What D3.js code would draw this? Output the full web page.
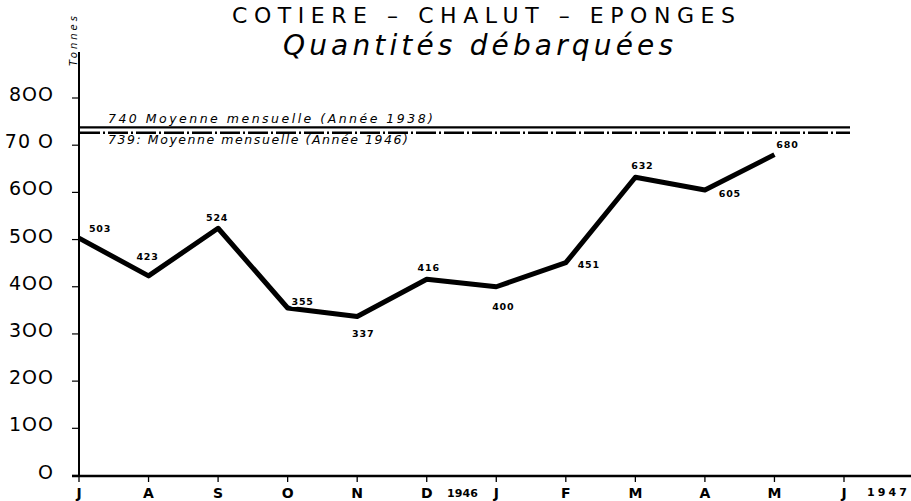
<!DOCTYPE html>
<html>
<head>
<meta charset="utf-8">
<script src="https://cdn.jsdelivr.net/npm/d3@7"></script>
<style>
  html, body { margin: 0; padding: 0; background: #fff; }
  svg { display: block; }
  text { fill: #000; }
</style>
</head>
<body>
<svg id="chart" width="911" height="501"></svg>
<script>
// ---- data ----
const months = ["J", "A", "S", "O", "N", "D", "J", "F", "M", "A", "M", "J"];
const values = [503, 423, 524, 355, 337, 416, 400, 451, 632, 605, 680];
const yTicks = [0, 100, 200, 300, 400, 500, 600, 700, 800];
const yTickLabels = ["O", "1OO", "2OO", "3OO", "4OO", "5OO", "6OO", "70 O", "8OO"];
const refValues = [740, 739];
const refLabels = ["740  Moyenne mensuelle (Année 1938)", "739: Moyenne mensuelle (Année 1946)"];
const yearLabels = ["1946", "1947"];
const titleText = "COTIERE – CHALUT – EPONGES";
const subtitleText = "Quantités débarquées";
const unitText = "Tonnes";

// ---- layout ----
const svg = d3.select("#chart");
const idx = months.map((m, i) => i);
const x = d3.scalePoint().domain(idx).range([79, 844]);
const y = d3.scaleLinear().domain([0, 800]).range([475.5, 98]);

// label placement (dx, dy relative to point)
const labelOffsets = [[21, -6], [-1, -16], [-1, -7], [15, -3], [6, 21], [2, -8], [7, 23], [23, 5], [7, -8], [25, 7], [13, -7]];

// titles
svg.append("text").attr("x", 232).attr("y", 23)
  .attr("font-family", "DejaVu Sans").attr("font-size", 22)
  .attr("textLength", 503).attr("lengthAdjust", "spacing")
  .text(titleText);
svg.append("text").attr("x", 283).attr("y", 55)
  .attr("font-family", "DejaVu Sans").attr("font-style", "italic").attr("font-size", 28)
  .attr("textLength", 390).attr("lengthAdjust", "spacing")
  .text(subtitleText);
svg.append("text")
  .attr("transform", "translate(77,66) rotate(-90)")
  .attr("font-family", "DejaVu Sans").attr("font-style", "italic").attr("font-size", 10)
  .attr("textLength", 50).attr("lengthAdjust", "spacing")
  .text(unitText);

// reference lines
svg.append("line")
  .attr("x1", 80).attr("x2", 850)
  .attr("y1", y(refValues[0]) + 1).attr("y2", y(refValues[0]) + 1)
  .attr("stroke", "#000").attr("stroke-width", 2.2);
svg.append("line")
  .attr("x1", 80).attr("x2", 850)
  .attr("y1", y(refValues[1]) + 6).attr("y2", y(refValues[1]) + 6)
  .attr("stroke", "#000").attr("stroke-width", 2.4)
  .attr("stroke-dasharray", "20,3,2,3");
svg.append("text").attr("x", 108).attr("y", 123)
  .attr("font-family", "DejaVu Sans").attr("font-style", "italic").attr("font-size", 12.5)
  .attr("textLength", 325).attr("lengthAdjust", "spacing")
  .text(refLabels[0]);
svg.append("text").attr("x", 108).attr("y", 144)
  .attr("font-family", "DejaVu Sans").attr("font-style", "italic").attr("font-size", 12.5)
  .attr("textLength", 300).attr("lengthAdjust", "spacing")
  .text(refLabels[1]);

// y axis
svg.append("line").attr("x1", 79).attr("x2", 79).attr("y1", 52).attr("y2", 477)
  .attr("stroke", "#000").attr("stroke-width", 2);
const yg = svg.append("g");
yg.selectAll("line").data(yTicks).join("line")
  .attr("x1", 72).attr("x2", 79)
  .attr("y1", d => y(d)).attr("y2", d => y(d))
  .attr("stroke", "#000").attr("stroke-width", 1.2);
yg.selectAll("text").data(yTicks).join("text")
  .attr("x", 54).attr("y", d => y(d) + 3)
  .attr("text-anchor", "end")
  .attr("font-family", "DejaVu Sans").attr("font-size", 19)
  .attr("letter-spacing", 1)
  .text((d, i) => yTickLabels[i]);

// x axis
svg.append("line").attr("x1", 72).attr("x2", 911).attr("y1", 476).attr("y2", 476)
  .attr("stroke", "#000").attr("stroke-width", 2.6);
const xg = svg.append("g");
xg.selectAll("line").data(idx).join("line")
  .attr("x1", d => x(d)).attr("x2", d => x(d))
  .attr("y1", 476).attr("y2", 482)
  .attr("stroke", "#000").attr("stroke-width", 1.3);
xg.selectAll("text").data(idx).join("text")
  .attr("x", d => x(d)).attr("y", 498)
  .attr("text-anchor", "middle")
  .attr("font-family", "DejaVu Sans").attr("font-weight", "bold").attr("font-size", 14)
  .text(d => months[d]);
svg.append("text").attr("x", 447).attr("y", 497)
  .attr("font-family", "DejaVu Sans").attr("font-weight", "bold").attr("font-size", 11)
  .attr("textLength", 31).attr("lengthAdjust", "spacing")
  .text(yearLabels[0]);
svg.append("text").attr("x", 867).attr("y", 496)
  .attr("font-family", "DejaVu Sans").attr("font-weight", "bold").attr("font-size", 11)
  .attr("textLength", 40).attr("lengthAdjust", "spacing")
  .text(yearLabels[1]);

// data line
const line = d3.line().x((d, i) => x(i)).y(d => y(d)).curve(d3.curveLinear);
svg.append("path").datum(values)
  .attr("d", line)
  .attr("fill", "none").attr("stroke", "#000")
  .attr("stroke-width", 5).attr("stroke-linejoin", "round").attr("stroke-linecap", "butt");

// data labels
svg.append("g").selectAll("text").data(values).join("text")
  .attr("x", (d, i) => x(i) + labelOffsets[i][0])
  .attr("y", (d, i) => y(d) + labelOffsets[i][1])
  .attr("text-anchor", "middle")
  .attr("font-family", "DejaVu Sans").attr("font-weight", "bold").attr("font-size", 9.5)
  .attr("letter-spacing", 0.8)
  .attr("stroke", "#fff").attr("stroke-width", 4).attr("paint-order", "stroke")
  .text(d => d);
</script>
</body>
</html>
